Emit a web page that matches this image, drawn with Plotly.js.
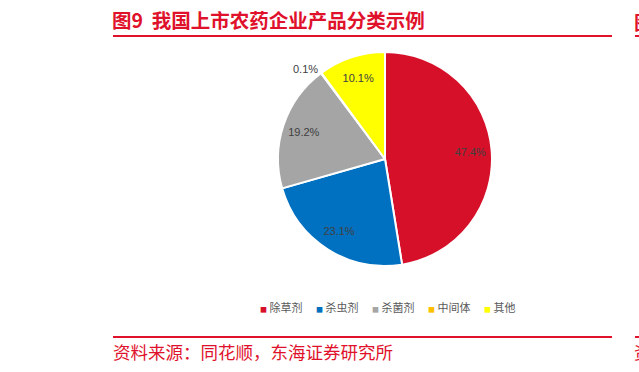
<!DOCTYPE html>
<html>
<head>
<meta charset="utf-8">
<script src="https://cdn.plot.ly/plotly-3.0.1.min.js"></script>
<style>html,body{margin:0;padding:0;background:#fff;}#chart{width:639px;height:372px;}</style>
</head>
<body>
<div id="chart"></div>
<script>
const categories = ['除草剂', '杀虫剂', '杀菌剂', '中间体', '其他'];
const shares = [47.4, 23.1, 19.2, 0.1, 10.1];
const sliceColors = ['#D7102A', '#0070C0', '#A5A5A5', '#FFC000', '#FFFF00'];
const labelPositions = ['inside', 'inside', 'inside', 'outside', 'inside'];
const titleText = '图9  我国上市农药企业产品分类示例';
const sourceText = '资料来源：同花顺，东海证券研究所';

const W = 639, H = 372;
const ML = 160, MR = 29, MT = 52, MB = 106;
const red = '#E0112B';
const cjk = '"Noto Sans CJK SC", "Liberation Sans", sans-serif';
const latin = '"Liberation Sans", Arial, sans-serif';

function px2x(px) { return (px - ML) / (W - ML - MR); }
function py2y(py) { return (H - MB - py) / (H - MT - MB); }

// the coloured slices
const pieTrace = {
  type: 'pie',
  labels: categories,
  values: shares,
  sort: false,
  direction: 'clockwise',
  rotation: 0,
  marker: { colors: sliceColors, line: { color: '#FFFFFF', width: 2 } },
  textinfo: 'none',
  hoverinfo: 'none',
  showlegend: false
};

// transparent ring carrying the value labels, so they sit toward the rim
const labelTrace = {
  type: 'pie',
  labels: categories,
  values: shares,
  sort: false,
  direction: 'clockwise',
  rotation: 0,
  hole: 0.6,
  marker: { colors: sliceColors.map(() => 'rgba(0,0,0,0)'), line: { width: 0 } },
  texttemplate: '%{value:.1f}%',
  textposition: labelPositions,
  insidetextorientation: 'horizontal',
  textfont: { family: latin, size: 11, color: '#404040' },
  outsidetextfont: { family: latin, size: 11, color: '#404040' },
  hoverinfo: 'none',
  showlegend: false
};

// legend entries: small coloured square key followed by the name
const legendTraces = categories.map((c, i) => ({
  type: 'scatter',
  mode: 'markers',
  x: [null], y: [null],
  name: '<span style="color:' + sliceColors[i] + ';font-size:7px">■</span> ' + c,
  marker: { symbol: 'square', size: 1, color: 'rgba(0,0,0,0)' },
  hoverinfo: 'none',
  showlegend: true
}));
// empty spacer entry so the last legend entry is not clipped
legendTraces.push({
  type: 'scatter', mode: 'markers', x: [null], y: [null],
  name: ' ', marker: { size: 1, color: 'rgba(0,0,0,0)' },
  hoverinfo: 'none', showlegend: true
});

const layout = {
  width: W, height: H,
  paper_bgcolor: '#FFFFFF',
  plot_bgcolor: 'rgba(0,0,0,0)',
  margin: { l: ML, r: MR, t: MT, b: MB },
  xaxis: { visible: false },
  yaxis: { visible: false },
  showlegend: true,
  legend: {
    orientation: 'h',
    x: 220 / W, xref: 'container', xanchor: 'left',
    y: 1 - 308 / H, yref: 'container', yanchor: 'middle',
    font: { family: cjk, size: 11, color: '#595959' },
    itemwidth: 30,
    entrywidth: 11, entrywidthmode: 'pixels',
    traceorder: 'normal',
    bgcolor: 'rgba(0,0,0,0)'
  },
  title: {
    text: '<b>' + titleText + '</b>',
    x: 112 / W, xref: 'container', xanchor: 'left',
    y: 1 - 21 / H, yref: 'container', yanchor: 'middle',
    font: { family: cjk, size: 19.5, color: red }
  },
  shapes: [
    { type: 'line', xref: 'paper', yref: 'paper', x0: px2x(113), x1: px2x(612), y0: py2y(36), y1: py2y(36), line: { color: red, width: 2 } },
    { type: 'line', xref: 'paper', yref: 'paper', x0: px2x(635), x1: px2x(645), y0: py2y(36), y1: py2y(36), line: { color: red, width: 2 } },
    { type: 'line', xref: 'paper', yref: 'paper', x0: px2x(113), x1: px2x(612), y0: py2y(337), y1: py2y(337), line: { color: red, width: 2 } },
    { type: 'line', xref: 'paper', yref: 'paper', x0: px2x(635), x1: px2x(645), y0: py2y(337), y1: py2y(337), line: { color: red, width: 2 } }
  ],
  annotations: [
    {
      text: sourceText, xref: 'paper', yref: 'paper',
      x: px2x(111), xanchor: 'left',
      y: py2y(351), yanchor: 'middle',
      showarrow: false,
      font: { family: cjk, size: 17.5, color: red }
    },
    {
      text: '<b>图</b>', xref: 'paper', yref: 'paper',
      x: px2x(632), xanchor: 'left',
      y: py2y(21), yanchor: 'middle',
      showarrow: false,
      font: { family: cjk, size: 19.5, color: red }
    },
    {
      text: '资', xref: 'paper', yref: 'paper',
      x: px2x(632), xanchor: 'left',
      y: py2y(351), yanchor: 'middle',
      showarrow: false,
      font: { family: cjk, size: 17.5, color: red }
    }
  ]
};

Plotly.newPlot('chart', [pieTrace, labelTrace].concat(legendTraces), layout, { displayModeBar: false, staticPlot: true });
</script>
</body>
</html>
